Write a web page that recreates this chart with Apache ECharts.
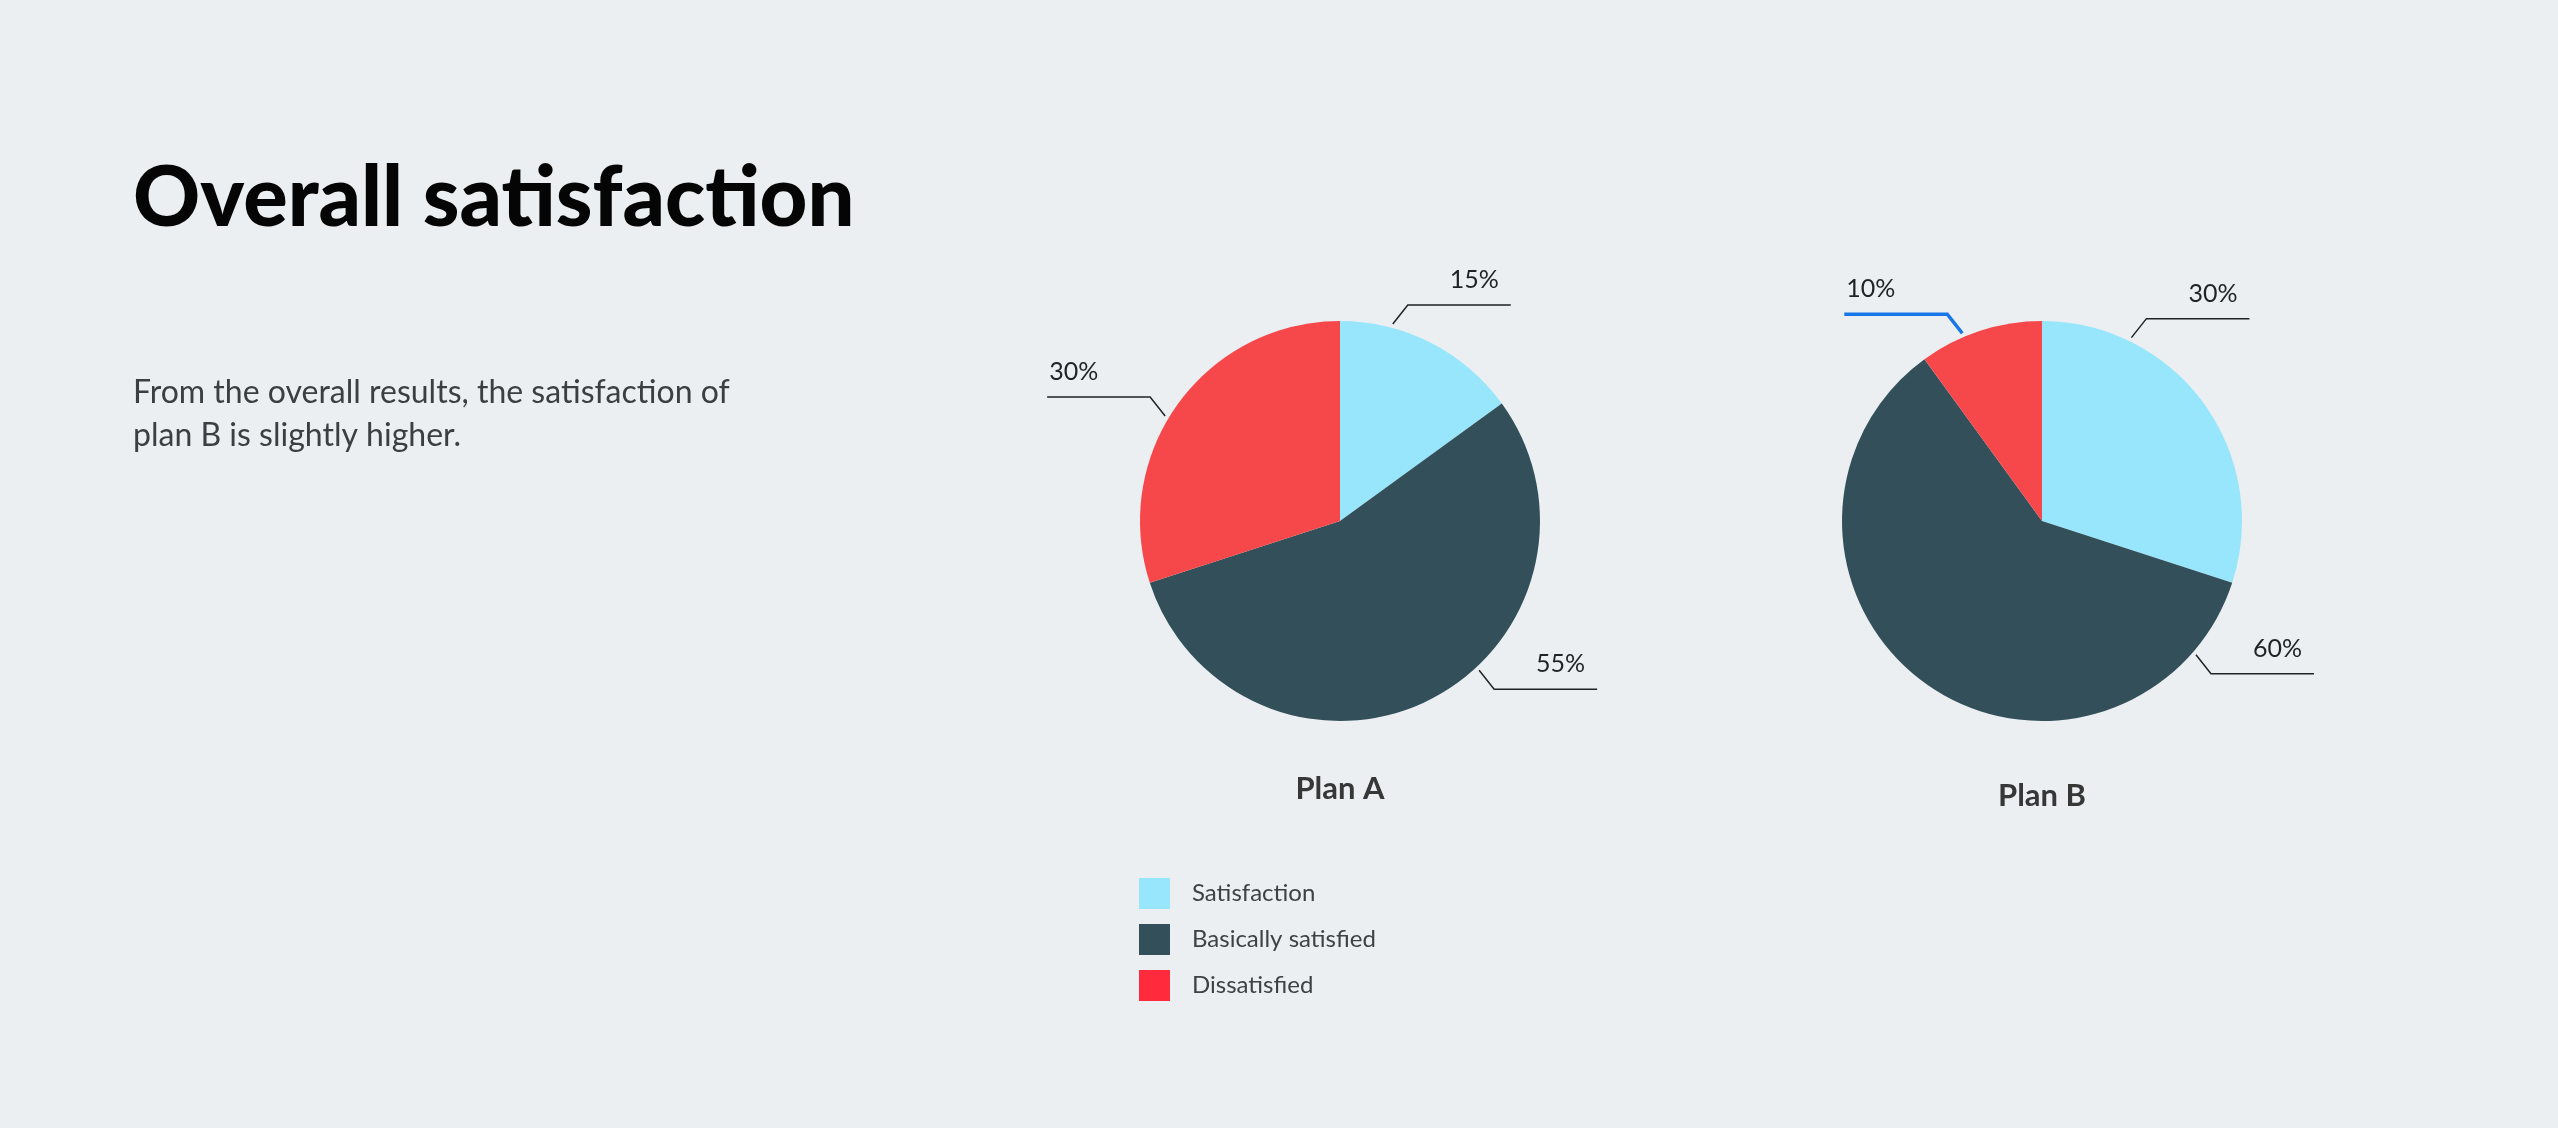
<!DOCTYPE html>
<html><head><meta charset="utf-8">
<script src="https://cdn.jsdelivr.net/npm/echarts@6/dist/echarts.min.js"></script>
<style>html,body{margin:0;padding:0;background:#ebeff1}#c{width:2558px;height:1128px}</style>
</head><body><div id="c"></div>
<script>
// ---- data ----
const categories = ['Satisfaction', 'Basically satisfied', 'Dissatisfied'];
const planNames = ['Plan A', 'Plan B'];
const planAValues = [15, 55, 30];
const planBValues = [30, 60, 10];
const titleText = 'Overall satisfaction';
const descriptionText = 'From the overall results, the satisfaction of\nplan B is slightly higher.';

// ---- styles / layout ----
const FONT = 'Lato, "Noto Sans", sans-serif';
const COLORS = {
  slice: ['#98e6fc', '#33505a', '#f6474b'],
  legend: ['#98e6fc', '#33505a', '#ff2b3d'],
  bg: '#ebeff1'
};
const LAYOUT = {
  radius: 200,
  centers: [[1340, 521], [2042, 521]],
  labelAngles: [[15, 137, 301], [26, 131, 337]],
  lineStartGap: 4,
  seg1: [15, 19],
  seg2: 103
};
const lineStyles = [
  [{}, {}, {}],
  [{}, {}, { color: '#1877e8', width: 3.5 }]
];

function makeLabelLayout(si) {
  return function (params) {
    const c = LAYOUT.centers[si];
    const R = LAYOUT.radius + LAYOUT.lineStartGap;
    const a = LAYOUT.labelAngles[si][params.dataIndex] * Math.PI / 180;
    const sx = Math.sin(a), sy = -Math.cos(a);
    const x1 = c[0] + R * sx, y1 = c[1] + R * sy;
    const hs = sx >= 0 ? 1 : -1, vs = sy >= 0 ? 1 : -1;
    const x2 = x1 + hs * LAYOUT.seg1[0], y2 = y1 + vs * LAYOUT.seg1[1];
    const x3 = x2 + hs * LAYOUT.seg2;
    return {
      x: hs > 0 ? x3 - 12 : x3 + 2,
      y: y2 - 25,
      align: hs > 0 ? 'right' : 'left',
      verticalAlign: 'middle',
      labelLinePoints: [[x1, y1], [x2, y2], [x3, y2]]
    };
  };
}

function makeSeries(si, values) {
  return {
    type: 'pie',
    name: planNames[si],
    center: LAYOUT.centers[si],
    radius: LAYOUT.radius,
    startAngle: 90,
    clockwise: true,
    silent: true,
    avoidLabelOverlap: false,
    label: {
      show: true,
      formatter: '{c}%',
      fontSize: 25,
      fontFamily: FONT,
      color: '#1f2326'
    },
    labelLine: {
      show: true,
      lineStyle: { color: '#1f2326', width: 1.5 }
    },
    labelLayout: makeLabelLayout(si),
    data: categories.map((n, i) => ({
      name: n,
      value: values[i],
      itemStyle: { color: COLORS.slice[i] },
      labelLine: { lineStyle: Object.assign({ color: '#1f2326', width: 1.5 }, lineStyles[si][i]) }
    }))
  };
}

const chart = echarts.init(document.getElementById('c'), null, { renderer: 'canvas' });
chart.setOption({
  backgroundColor: COLORS.bg,
  animation: false,
  legend: {
    orient: 'vertical',
    left: 1139,
    top: 878,
    padding: 0,
    itemWidth: 31,
    itemHeight: 31,
    itemGap: 15,
    icon: 'rect',
    selectedMode: false,
    data: categories.map((n, i) => ({ name: n, itemStyle: { color: COLORS.legend[i] } })),
    textStyle: { fontSize: 24, color: '#3d4247', fontFamily: FONT, padding: [0, 0, 0, 17] }
  },
  graphic: [
    { type: 'text', left: 133, top: 158, silent: true,
      style: { text: titleText, font: '900 83px ' + FONT, fill: '#050505' } },
    { type: 'text', left: 133, top: 371, silent: true,
      style: { text: descriptionText, font: '32px ' + FONT, fill: '#3a3f44', lineHeight: 43 } },
    { type: 'text', x: LAYOUT.centers[0][0], y: 789, silent: true,
      style: { text: planNames[0], font: 'bold 31px ' + FONT, fill: '#363838', align: 'center', verticalAlign: 'middle' } },
    { type: 'text', x: LAYOUT.centers[1][0], y: 796, silent: true,
      style: { text: planNames[1], font: 'bold 31px ' + FONT, fill: '#363838', align: 'center', verticalAlign: 'middle' } }
  ],
  series: [makeSeries(0, planAValues), makeSeries(1, planBValues)]
});
</script>
</body></html>
